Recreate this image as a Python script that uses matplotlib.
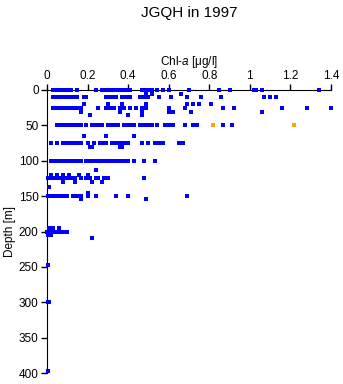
import matplotlib
matplotlib.use("Agg")
import matplotlib.pyplot as plt

plt.rcParams['font.family'] = ['Liberation Sans', 'DejaVu Sans']
plt.rcParams['mathtext.fontset'] = 'custom'
plt.rcParams['mathtext.rm'] = 'Liberation Sans'
plt.rcParams['mathtext.it'] = 'Liberation Sans:italic'

# Chl-a values per sampling depth
chl_0m = [0.03, 0.05, 0.06, 0.08, 0.09, 0.11, 0.12, 0.15, 0.24,
          0.27, 0.29, 0.31, 0.33, 0.35, 0.37, 0.39, 0.41, 0.47, 0.49, 0.51, 0.52,
          0.54, 0.57, 0.60, 0.70, 0.85, 0.90, 1.02, 1.03, 1.06, 1.34]
chl_5m = [0.49, 0.52, 0.66]
chl_10m = [0.03, 0.04, 0.06, 0.07, 0.09, 0.10, 0.12, 0.13, 0.15,
           0.18, 0.19, 0.29, 0.30, 0.32, 0.34, 0.37, 0.39, 0.41, 0.46,
           0.48, 0.50, 0.55, 0.61, 0.69, 0.76, 0.86, 1.07, 1.10, 1.13]
chl_20m = [0.18, 0.30, 0.37, 0.49, 0.69, 0.72, 0.75, 0.81]
chl_25m = [0.03, 0.04, 0.06, 0.07, 0.09, 0.10, 0.12, 0.13, 0.15,
           0.17, 0.25, 0.29, 0.31, 0.33, 0.36, 0.38, 0.41, 0.44, 0.47, 0.49,
           0.60, 0.68, 0.87, 0.92, 1.16, 1.28, 1.40]
chl_31m = [0.17, 0.36, 0.47, 0.60, 0.62, 0.71, 1.06]
chl_35m = [0.21, 0.40, 0.47]
chl_50m = [0.05, 0.07, 0.08, 0.10, 0.11, 0.13, 0.15, 0.17,
           0.19, 0.22, 0.24, 0.26, 0.27, 0.30, 0.32, 0.33, 0.35,
           0.38, 0.40, 0.42, 0.43, 0.46, 0.48, 0.50, 0.52, 0.54, 0.58,
           0.60, 0.62, 0.68, 0.72, 0.74, 0.87, 0.91]
chl_65m = [0.18, 0.29, 0.43]
chl_75m = [0.02, 0.05, 0.08, 0.09, 0.11, 0.12, 0.14, 0.16, 0.17,
           0.20, 0.23, 0.26, 0.27, 0.29, 0.32, 0.34, 0.36, 0.38, 0.40,
           0.47, 0.50, 0.53, 0.55, 0.57, 0.65, 0.67]
chl_81m = [0.21, 0.22, 0.36, 0.37]
chl_100m = [0.02, 0.03, 0.05, 0.07, 0.08, 0.10, 0.12, 0.13, 0.15, 0.17,
            0.19, 0.21, 0.22, 0.24, 0.26, 0.28, 0.30, 0.32, 0.34, 0.36,
            0.38, 0.40, 0.43, 0.48, 0.53]
chl_113m = [0.24]
chl_120m = [0.02, 0.05, 0.08, 0.11, 0.16, 0.20]
chl_125m = [0.005, 0.01, 0.02, 0.04, 0.05, 0.07, 0.08, 0.09,
            0.11, 0.12, 0.14, 0.17, 0.19, 0.21, 0.24, 0.25, 0.28,
            0.30, 0.48]
chl_130m = [0.08, 0.14, 0.22, 0.27]
chl_137m = [0.01]
chl_146m = [0.20]
chl_150m = [0.005, 0.01, 0.02, 0.03, 0.05, 0.06, 0.08, 0.10,
            0.13, 0.15, 0.17, 0.20, 0.24, 0.34, 0.40, 0.69]
chl_154m = [0.17, 0.49]
chl_195m = [0.01, 0.03, 0.06]
chl_200m = [0.0, 0.005, 0.01, 0.02, 0.03, 0.05, 0.06, 0.08, 0.10]
chl_205m = [0.005, 0.02]
chl_209m = [0.22]
chl_248m = [0.003]
chl_300m = [0.005, 0.01]
chl_397m = [0.005]

# highlighted samples (orange)
orange_chl = [0.82, 1.22]
orange_depth = [50, 50]

levels = [(0, chl_0m), (5, chl_5m), (10, chl_10m), (20, chl_20m), (25, chl_25m),
          (31, chl_31m), (35, chl_35m), (50, chl_50m), (65, chl_65m), (75, chl_75m),
          (81, chl_81m), (100, chl_100m), (113, chl_113m), (120, chl_120m),
          (125, chl_125m), (130, chl_130m), (137, chl_137m), (146, chl_146m),
          (150, chl_150m), (154, chl_154m), (195, chl_195m), (200, chl_200m),
          (205, chl_205m), (209, chl_209m), (248, chl_248m), (300, chl_300m),
          (397, chl_397m)]

fig = plt.figure(figsize=(3.43, 3.84), dpi=100)
ax = fig.add_axes([47 / 343, 1 - 373 / 384, 284 / 343, 283 / 384])

xs = []
ys = []
for d, vals in levels:
    xs += vals
    ys += [d] * len(vals)

ax.scatter(xs, ys, marker='s', s=4.8, color='#0000ff', linewidths=0, clip_on=False, zorder=3)
ax.scatter(orange_chl, orange_depth, marker='s', s=4.8, color='#ffa500', linewidths=0,
           clip_on=False, zorder=4)

ax.set_xlim(0, 1.4)
ax.set_ylim(400, 0)
ax.set_xticks([0, 0.2, 0.4, 0.6, 0.8, 1.0, 1.2, 1.4])
ax.set_xticklabels(['0', '0.2', '0.4', '0.6', '0.8', '1', '1.2', '1.4'])
ax.set_yticks([0, 50, 100, 150, 200, 250, 300, 350, 400])

ax.xaxis.tick_top()
ax.xaxis.set_label_position('top')
ax.spines['right'].set_visible(False)
ax.spines['bottom'].set_visible(False)
ax.tick_params(axis='both', direction='out', length=4, width=1, labelsize=8.5, pad=2)
ax.set_xlabel('Chl-$a$ [μg/l]', fontsize=8.5, labelpad=3)
ax.set_ylabel('Depth [m]', fontsize=8.5, labelpad=2)

fig.text(189 / 343, 1 - 13 / 384, 'JGQH in 1997', ha='center', va='center', fontsize=11)

fig.savefig('out.png', dpi=100)
